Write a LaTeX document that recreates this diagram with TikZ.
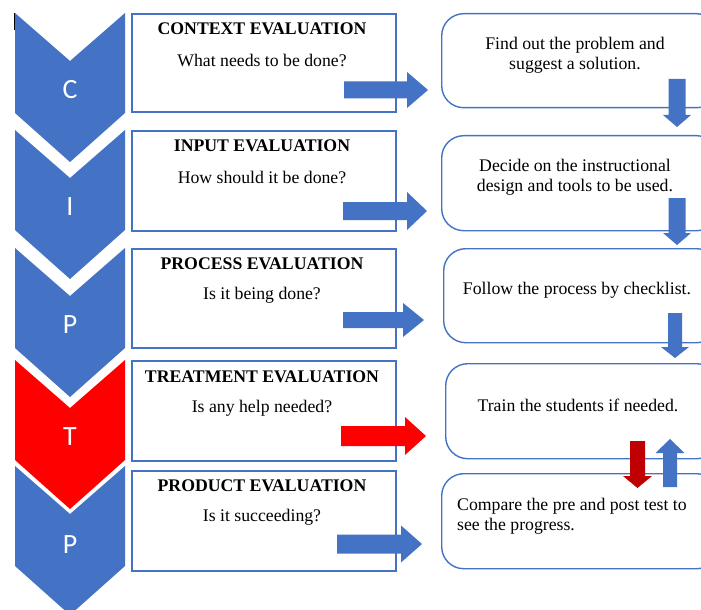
\documentclass[tikz,border=0pt]{standalone}
\usepackage{fontspec}
\setmainfont{Liberation Serif}
\newfontfamily\chevfont{Carlito}
\definecolor{cblue}{RGB}{68,114,196}
\definecolor{cred}{RGB}{255,0,0}
\definecolor{dred}{RGB}{192,0,0}
% horizontal block arrow: colour, x start, x head base, x tip, y centre, shaft half, head half
\newcommand\hblock[7]{\fill[#1] (#2,#5-#6) -- (#3,#5-#6) -- (#3,#5-#7) -- (#4,#5) -- (#3,#5+#7) -- (#3,#5+#6) -- (#2,#5+#6) -- cycle;}
% vertical block arrow: colour, x centre, y start, y head base, y tip, shaft half, head half
\newcommand\vblock[7]{\fill[#1] (#2-#6,#3) -- (#2-#6,#4) -- (#2-#7,#4) -- (#2,#5) -- (#2+#7,#4) -- (#2+#6,#4) -- (#2+#6,#3) -- cycle;}
% chevron: colour, top y
\newcommand\chevshape[2]{\fill[#1] (15,#2) -- (70,#2+48) -- (125,#2) -- (125,#2+100) -- (70,#2+149) -- (15,#2+100) -- cycle;}
\begin{document}
\begin{tikzpicture}[x=1bp,y=-1bp,
  letter/.style={text=white,font=\chevfont\fontsize{28}{30}\selectfont,inner sep=0pt},
  evalbox/.style={draw=cblue,line width=1.6bp,minimum width=264bp,inner sep=0pt,anchor=north west},
  resbox/.style={draw=cblue,line width=1.4bp,rounded corners=22bp,inner sep=0pt,anchor=north west,minimum width=277bp},
  ttl/.style={font=\fontsize{17.8}{20}\selectfont\bfseries,inner sep=0pt},
  sub/.style={font=\fontsize{17.8}{20}\selectfont,inner sep=0pt},
  restxt/.style={font=\fontsize{17.8}{20}\selectfont,inner sep=0pt,align=center}]
\useasboundingbox (0,0) rectangle (701,610);
\fill[white] (0,0) rectangle (701,610);
\clip (0,0) rectangle (701,610);

% chevrons
\chevshape{cblue}{13}
\chevshape{cblue}{130}
\chevshape{cblue}{248}
\chevshape{cred}{360}
\chevshape{cblue}{466}
\node[letter] (lc) at (70,90) {C};
\node[letter] (li) at (70,207) {I};
\node[letter] (lp1) at (70,325) {P};
\node[letter] (lt) at (70,437) {T};
\node[letter] (lp2) at (70,545) {P};

% evaluation boxes
\node[evalbox,minimum height=98bp] (b1) at (131,13) {};
\node[evalbox,minimum height=100bp] (b2) at (131,130) {};
\node[evalbox,minimum height=99bp] (b3) at (131,248) {};
\node[evalbox,minimum height=100bp] (b4) at (131,360) {};
\node[evalbox,minimum height=100bp] (b5) at (131,470) {};
\node[ttl] (t1) at (262,29) {CONTEXT EVALUATION};
\node[sub] (s1) at (262,60) {What needs to be done?};
\node[ttl] (t2) at (262,146) {INPUT EVALUATION};
\node[sub] (s2) at (262,177) {How should it be done?};
\node[ttl] (t3) at (262,264) {PROCESS EVALUATION};
\node[sub] (s3) at (262,295) {Is it being done?};
\node[ttl] (t4) at (262,377) {TREATMENT EVALUATION};
\node[sub] (s4) at (262,408) {Is any help needed?};
\node[ttl] (t5) at (262,486) {PRODUCT EVALUATION};
\node[sub] (s5) at (262,517) {Is it succeeding?};

% result boxes
\node[resbox,minimum height=94bp] (r1) at (441,13) {};
\node[resbox,minimum height=95bp] (r2) at (441,135) {};
\node[resbox,minimum height=94bp,minimum width=275bp] (r3) at (443,248) {};
\node[resbox,minimum height=95bp,minimum width=273bp] (r4) at (445,363) {};
\node[resbox,minimum height=95bp] (r5) at (441,473) {};
\node[restxt] (x1) at (575,55) {Find out the problem and\\suggest a solution.};
\node[restxt] (x2) at (575,177) {Decide on the instructional\\design and tools to be used.};
\node[restxt] (x3) at (577,290) {Follow the process by checklist.};
\node[restxt] (x4) at (578,405) {Train the students if needed.};
\node[restxt,align=left,anchor=west] (x5) at (457,516) {Compare the pre and post test to\\see the progress.};

% horizontal arrows
\hblock{cblue}{344}{407}{428}{90}{8.5}{18}
\hblock{cblue}{343}{407}{427}{211}{9}{19}
\hblock{cblue}{343}{403}{424}{320}{8}{17}
\hblock{cred}{341}{405}{426}{436}{10}{19}
\hblock{cblue}{337}{401}{422}{544}{9.5}{18.5}

% vertical arrows
\vblock{cblue}{677}{79}{115}{127}{8.5}{14}
\vblock{cblue}{677}{198}{233}{245}{8.5}{14}
\vblock{cblue}{675}{313}{347}{358}{7}{14}
\vblock{dred}{637.5}{441}{476}{488}{7.5}{14.5}
\vblock{cblue}{670}{487}{453}{439}{7}{14.5}

% cursor mark
\draw[line width=1bp] (14,13) -- (14,30);
\end{tikzpicture}
\end{document}
